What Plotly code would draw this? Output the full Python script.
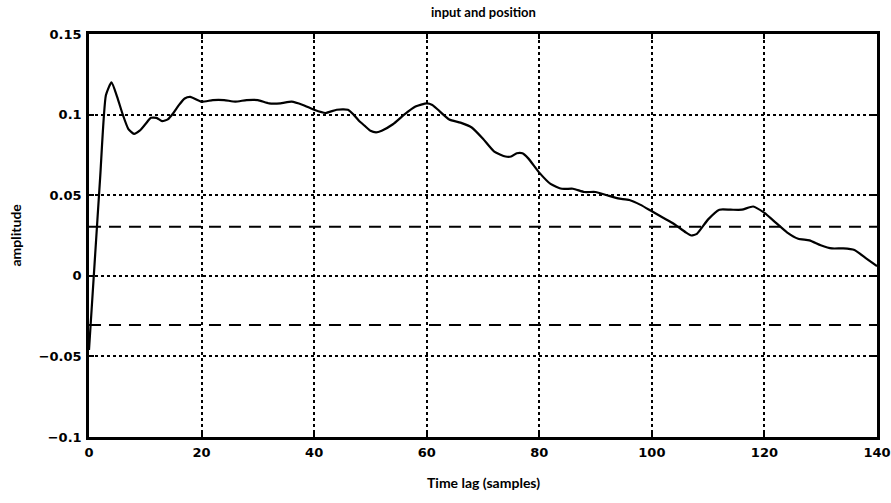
import plotly.graph_objects as go

# Cross-correlation of input and position versus time lag
lags = [0, 1, 2, 3, 4, 5, 6, 7, 8, 9, 10, 11, 12, 13, 14, 15, 16, 17, 18,
        20, 22, 24, 26, 28, 30, 32, 34, 36, 38, 40, 42, 44, 46, 47, 48, 49,
        50, 51, 52, 54, 56, 58, 60, 61, 62, 64, 66, 68, 70, 72, 74, 75, 76,
        77, 78, 80, 82, 84, 86, 88, 90, 92, 94, 96, 98, 100, 102, 104, 106,
        107, 108, 110, 112, 114, 116, 118, 120, 122, 124, 126, 128, 130, 132,
        134, 136, 138, 140]
amplitude = [-0.046, 0.008, 0.062, 0.112, 0.120, 0.111, 0.100, 0.091, 0.088,
             0.090, 0.094, 0.098, 0.098, 0.096, 0.097, 0.101, 0.106, 0.110,
             0.111, 0.108, 0.109, 0.109, 0.108, 0.109, 0.109, 0.107, 0.107,
             0.108, 0.106, 0.103, 0.101, 0.103, 0.103, 0.100, 0.096, 0.093,
             0.090, 0.089, 0.090, 0.094, 0.100, 0.105, 0.107, 0.106, 0.103,
             0.097, 0.095, 0.092, 0.085, 0.077, 0.074, 0.074, 0.076, 0.076,
             0.073, 0.064, 0.057, 0.054, 0.054, 0.052, 0.052, 0.050, 0.048,
             0.047, 0.044, 0.040, 0.036, 0.032, 0.027, 0.025, 0.026, 0.035,
             0.041, 0.041, 0.041, 0.043, 0.039, 0.033, 0.027, 0.023, 0.022,
             0.019, 0.017, 0.017, 0.016, 0.011, 0.006]

# Confidence bounds
conf_bound = 0.0305

x_ticks = [0, 20, 40, 60, 80, 100, 120, 140]
y_ticks = [-0.1, -0.05, 0, 0.05, 0.1, 0.15]
y_tick_text = ["\u22120.1", "\u22120.05", "0", "0.05", "0.1", "0.15"]

FONT = "Lato"
TICK_FONT = dict(family="DejaVu Sans", size=13, color="black", weight="bold")

fig = go.Figure()

for b in (conf_bound, -conf_bound):
    fig.add_trace(go.Scatter(
        x=[x_ticks[0], x_ticks[-1]], y=[b, b], mode="lines",
        line=dict(color="black", width=2, dash="12px,8px"),
        hoverinfo="skip", showlegend=False))

fig.add_trace(go.Scatter(
    x=lags, y=amplitude, mode="lines",
    line=dict(color="black", width=2.2, shape="spline", smoothing=0.5),
    showlegend=False))

axis_common = dict(
    showline=True, linecolor="black", linewidth=2.5, mirror="ticks",
    ticks="inside", ticklen=5, tickwidth=2, tickcolor="black",
    showgrid=True, gridcolor="black", gridwidth=1.8, griddash="dot",
    zeroline=False, automargin=False, tickfont=TICK_FONT,
)

fig.update_xaxes(range=[0, 140], tickvals=x_ticks, ticklabelstandoff=2,
                 **axis_common)
fig.update_yaxes(range=[-0.1, 0.15], tickvals=y_ticks, ticktext=y_tick_text,
                 ticklabelstandoff=2, **axis_common)

fig.update_layout(
    width=891, height=503,
    margin=dict(l=89, r=14, t=34, b=66, autoexpand=False),
    paper_bgcolor="white", plot_bgcolor="white",
    annotations=[
        dict(text="input and position", xref="paper", yref="paper",
             x=0.5, y=1, yshift=22, xanchor="center", yanchor="middle",
             showarrow=False,
             font=dict(family=FONT, size=13, color="black", weight="bold")),
        dict(text="Time lag (samples)", xref="paper", yref="paper",
             x=0.5, y=0, yshift=-45, xanchor="center", yanchor="middle",
             showarrow=False,
             font=dict(family=FONT, size=14, color="black", weight="bold")),
        dict(text="amplitude", xref="paper", yref="paper",
             x=0, y=0.5, xshift=-74, xanchor="center", yanchor="middle",
             textangle=-90, showarrow=False,
             font=dict(family=FONT, size=14, color="black", weight="bold")),
    ],
)

fig.write_html("out.html")
